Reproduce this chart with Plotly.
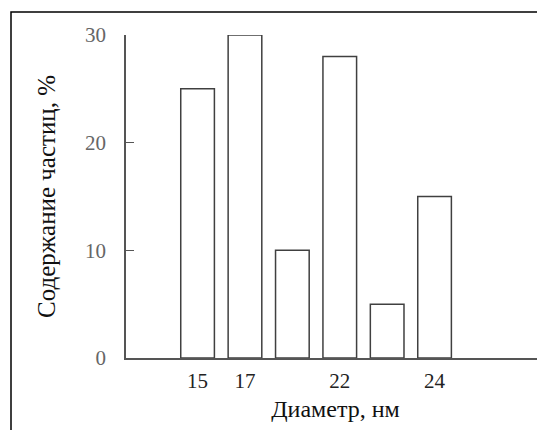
import plotly.graph_objects as go

# Data
diameter_labels = ["15", "17", "", "22", "", "24"]
content_pct = [25, 30, 10, 28, 5, 15]
positions = [1, 2, 3, 4, 5, 6]
y_ticks = [0, 10, 20, 30]

# page body has an 8px margin, so the figure is drawn at (8, 8)
OFF = 8
W, H = 545 - OFF, 430 - OFF
L, R, T = 126 - OFF, 0, 35 - OFF
B = H - (358 - OFF)
pw = W - L - R
ph = H - T - B

fig = go.Figure()
fig.add_trace(go.Bar(
    x=positions, y=content_pct, width=0.71,
    marker=dict(color="white", line=dict(color="#404040", width=1.5)),
    showlegend=False,
))

tv = [p for p, l in zip(positions, diameter_labels) if l]
tt = [l for l in diameter_labels if l]

font = "Liberation Serif, Times New Roman, serif"
fig.update_layout(
    width=W, height=H,
    margin=dict(l=L, r=R, t=T, b=B),
    plot_bgcolor="white", paper_bgcolor="white",
    font=dict(family=font),
    xaxis=dict(
        range=[-0.51, 8.33], tickvals=tv, ticktext=tt,
        showline=True, linecolor="#555555", linewidth=1.5,
        showgrid=False, zeroline=False, ticks="",
        tickfont=dict(size=21, color="#222222"),
        ticklabelstandoff=3,
        title=dict(text="Диаметр, нм", font=dict(size=24, color="#111111"), standoff=8),
    ),
    yaxis=dict(
        range=[0, 30], tickvals=y_ticks,
        showline=True, linecolor="#555555", linewidth=1.5,
        showgrid=False, zeroline=False,
        ticks="inside", ticklen=8, tickcolor="#555555", tickwidth=1.2,
        tickfont=dict(size=21, color="#666666"),
        ticklabelstandoff=14,
        title=dict(text="Содержание частиц, %", font=dict(size=25, color="#111111"), standoff=22),
    ),
    shapes=[dict(
        type="rect", xref="paper", yref="paper",
        x0=(11 - 126) / pw, x1=1.05,
        y0=-(B + 10) / ph, y1=1 + (35 - 12) / ph,
        line=dict(color="black", width=1.5), fillcolor="rgba(0,0,0,0)", layer="below",
    )],
)

fig.write_html("out.html")
